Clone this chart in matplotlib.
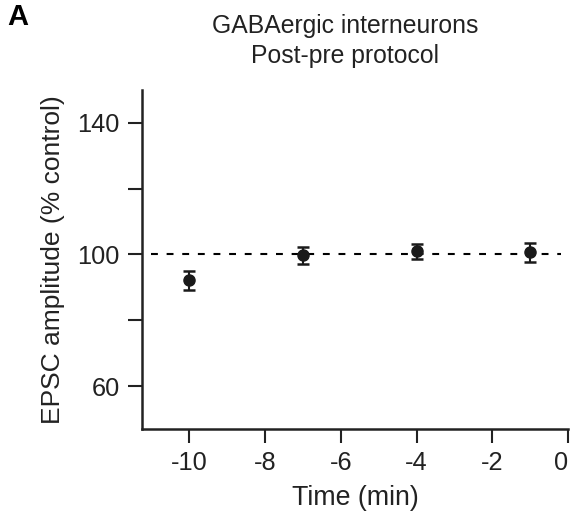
import numpy as np
import matplotlib.pyplot as plt

plt.rcParams['font.family'] = ['Liberation Sans', 'DejaVu Sans']
plt.rcParams['axes.unicode_minus'] = False

timeMin = [-10, -7, -4, -1]
epscAmp = [92.2, 99.8, 101.0, 100.7]
epscErr = [2.9, 2.6, 2.3, 2.9]
xTicks = [-10, -8, -6, -4, -2, 0]
yTicks = [60, 100, 140]

fig = plt.figure(figsize=(5.74, 5.22), dpi=100)
ax = fig.add_axes([0.247, 0.178, 0.743, 0.650])

ax.plot([-11, -0.2], [100, 100], linestyle=(0, (3.3, 4.2)), color='black', linewidth=1.5, zorder=1)
ax.errorbar(timeMin, epscAmp, yerr=epscErr, fmt='o', color='#1a1a1a', markersize=8,
            elinewidth=1.5, capsize=4.5, capthick=1.8, zorder=3)

ax.set_xlim(-11.25, 0)
ax.set_ylim(47, 150)
ax.set_xticks(xTicks)
ax.set_yticks(yTicks)
ax.set_yticks([80, 120], minor=True)
ax.tick_params(which='both', direction='out', length=10, width=1.5, labelsize=18.3, colors='#222222', pad=6)
ax.tick_params(which='minor', labelleft=False)
ax.get_xticklabels()[-1].set_horizontalalignment('right')
ax.get_xticklabels()[-1].set_x(0.004)

for side in ['top', 'right']:
    ax.spines[side].set_visible(False)
for side in ['left', 'bottom']:
    ax.spines[side].set_linewidth(1.8)
    ax.spines[side].set_color('#222222')

ax.set_xlabel('Time (min)', fontsize=19.3, color='#222222', labelpad=7)
ax.set_ylabel('EPSC amplitude (% control)', fontsize=19, color='#222222', labelpad=9)

fig.text(345 / 574, 1 - 41 / 522, 'GABAergic interneurons\nPost-pre protocol', ha='center', va='center',
         fontsize=17.8, color='#222222', linespacing=1.3)
fig.text(7 / 574, 1 - 17 / 522, 'A', fontsize=21, fontweight='bold', ha='left', va='center')

fig.savefig('out.png', dpi=100)
